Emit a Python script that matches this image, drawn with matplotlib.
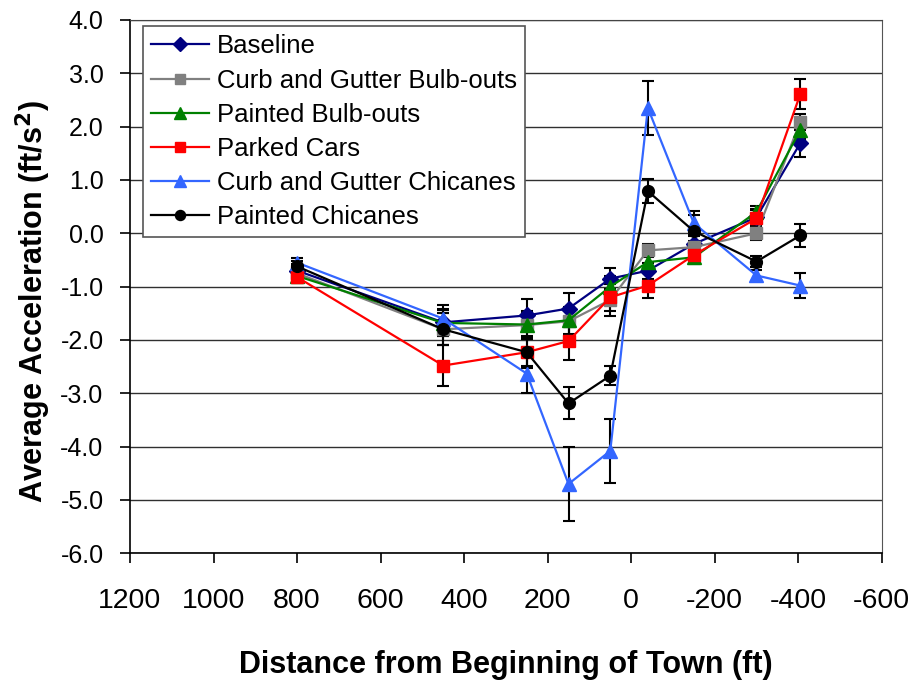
import matplotlib
matplotlib.use("Agg")
import matplotlib.pyplot as plt
from matplotlib.ticker import FormatStrFormatter

plt.rcParams['font.family'] = ['Liberation Sans', 'DejaVu Sans']
plt.rcParams['axes.unicode_minus'] = False

# distance from beginning of town (ft), positive = before town
distance = [800, 450, 250, 150, 50, -40, -150, -300, -405]

series_names = ['Baseline', 'Curb and Gutter Bulb-outs', 'Painted Bulb-outs',
                'Parked Cars', 'Curb and Gutter Chicanes', 'Painted Chicanes']

baseline = [-0.70, -1.67, -1.54, -1.41, -0.85, -0.70, -0.20, 0.30, 1.69]
baseline_err = [0.12, 0.25, 0.30, 0.30, 0.20, 0.15, 0.15, 0.15, 0.26]

cg_bulbouts = [-0.75, -1.80, -1.72, -1.65, -1.25, -0.32, -0.26, 0.00, 2.09]
cg_bulbouts_err = [0.12, 0.30, 0.25, 0.25, 0.30, 0.12, 0.12, 0.12, 0.15]

painted_bulbouts = [-0.80, -1.68, -1.71, -1.63, -1.00, -0.54, -0.45, 0.40, 1.94]
painted_bulbouts_err = [0.10, 0.25, 0.25, 0.25, 0.20, 0.15, 0.12, 0.12, 0.18]

parked_cars = [-0.82, -2.48, -2.23, -2.02, -1.20, -0.98, -0.41, 0.28, 2.61]
parked_cars_err = [0.12, 0.38, 0.30, 0.35, 0.25, 0.23, 0.12, 0.15, 0.28]

cg_chicanes = [-0.55, -1.60, -2.63, -4.70, -4.08, 2.35, 0.19, -0.79, -0.98]
cg_chicanes_err = [0.08, 0.25, 0.37, 0.70, 0.60, 0.50, 0.22, 0.10, 0.23]

painted_chicanes = [-0.62, -1.80, -2.23, -3.19, -2.67, 0.79, 0.04, -0.53, -0.04]
painted_chicanes_err = [0.10, 0.30, 0.25, 0.30, 0.18, 0.22, 0.30, 0.10, 0.22]

values = [baseline, cg_bulbouts, painted_bulbouts, parked_cars, cg_chicanes, painted_chicanes]
errors = [baseline_err, cg_bulbouts_err, painted_bulbouts_err, parked_cars_err,
          cg_chicanes_err, painted_chicanes_err]
colors = ['#000080', '#808080', '#008000', '#FF0000', '#3366FF', '#000000']
markers = ['D', 's', '^', 's', '^', 'o']
msizes = [8, 8.5, 10, 8.5, 10, 8.5]

fig = plt.figure(figsize=(9.18, 6.82), dpi=100)
ax = fig.add_axes([0.1416, 0.1887, 0.8189, 0.782])

for y, e, c, m, ms, name in zip(values, errors, colors, markers, msizes, series_names):
    ax.errorbar(distance, y, yerr=e, fmt='none', ecolor='black', elinewidth=1.5,
                capsize=4.5, capthick=1.5, zorder=2)
    ax.plot(distance, y, color=c, marker=m, markersize=ms, linewidth=1.6,
            markeredgecolor=c, label=name, zorder=3)

ax.set_xlim(1200, -600)
ax.set_ylim(-6, 4)
ax.set_xticks(range(1200, -601, -200))
ax.set_yticks(range(-6, 5))
ax.yaxis.set_major_formatter(FormatStrFormatter('%.1f'))

ax.yaxis.grid(True, color='#303030', linewidth=1.0)
ax.set_axisbelow(True)
for s in ['left', 'bottom']:
    ax.spines[s].set_linewidth(1.2)
ax.spines['right'].set_color('#555555')
ax.spines['top'].set_color('#444444')

ax.tick_params(axis='y', direction='out', length=7, width=1.2, pad=12, labelsize=18)
ax.tick_params(axis='x', direction='out', length=7, width=1.2, pad=18, labelsize=20.5)

ax.set_xlabel('Distance from Beginning of Town (ft)', fontsize=22, fontweight='bold',
              labelpad=26)
ax.set_ylabel('Average Acceleration (ft/s$^\\mathbf{2}$)', fontsize=22, fontweight='bold')
ax.yaxis.set_label_coords(-0.102, 0.473)

leg = ax.legend(loc='upper left', bbox_to_anchor=(0.0173, 0.9887), borderaxespad=0,
                fontsize=18.5, frameon=True, fancybox=False, framealpha=1,
                edgecolor='#555555', handlelength=2.25, labelspacing=0.39,
                handletextpad=0.3, borderpad=0.33, numpoints=1, markerscale=0.85)
leg.get_frame().set_linewidth(1.2)

fig.savefig('out.png', dpi=100)
